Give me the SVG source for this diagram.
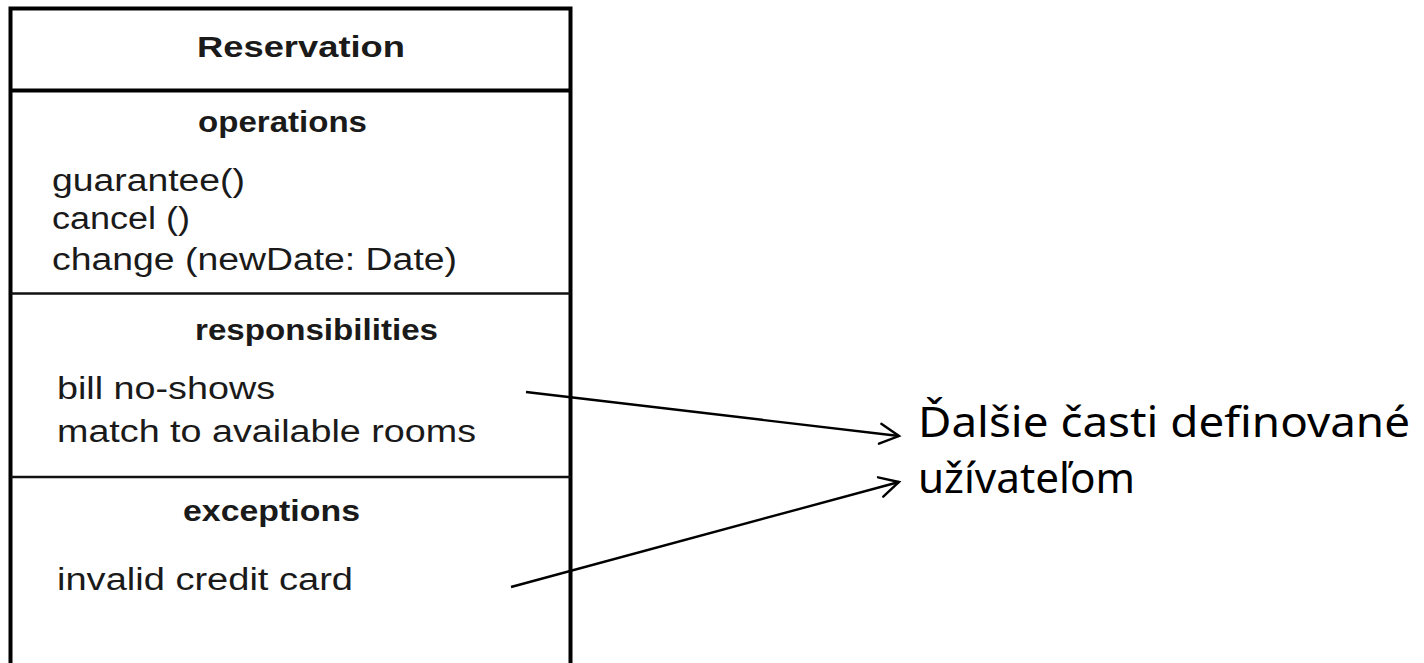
<svg xmlns="http://www.w3.org/2000/svg" width="1424" height="663" viewBox="0 0 1424 663">
  <style>
    .frame { fill: none; stroke: #000; stroke-width: 4; }
    .sep { fill: none; stroke: #111; stroke-width: 2.6; }
    .head { font-family: "Liberation Sans", Arial, sans-serif; font-weight: bold; font-size: 30px; fill: #1a1a1a; }
    .item { font-family: "Liberation Sans", Arial, sans-serif; font-size: 31px; fill: #1a1a1a; }
    .note { font-family: "Noto Sans", "Open Sans", sans-serif; font-size: 42px; fill: #000; }
    .link { fill: none; stroke: #000; stroke-width: 2.4; }
  </style>
  <defs>
    <!-- open chevron arrowhead, tip at the marker origin -->
    <marker id="open-arrow" viewBox="-22 -14 26 28" refX="0" refY="0" markerWidth="26" markerHeight="28" markerUnits="userSpaceOnUse" orient="auto" overflow="visible">
      <path d="M-19,-10 L0,0 L-19,10" fill="none" stroke="#000" stroke-width="2.4" stroke-linecap="round" stroke-linejoin="miter"/>
    </marker>
  </defs>
  <rect width="1424" height="663" fill="#fff"/>

  <!-- Reservation class box, open at the bottom -->
  <g id="reservation">
    <path class="frame" d="M10.5,670 V8.5 H570.5 V670"/>
    <line class="frame" x1="10.5" y1="90.5" x2="570.5" y2="90.5"/>
    <text class="head" x="197" y="57" textLength="208" lengthAdjust="spacingAndGlyphs">Reservation</text>
  </g>

  <g id="operations">
    <text class="head" x="198" y="132" textLength="169" lengthAdjust="spacingAndGlyphs">operations</text>
    <text class="item" x="52" y="191" textLength="193" lengthAdjust="spacingAndGlyphs">guarantee()</text>
    <text class="item" x="52" y="229" textLength="138" lengthAdjust="spacingAndGlyphs">cancel ()</text>
    <text class="item" x="52" y="270" textLength="405" lengthAdjust="spacingAndGlyphs">change (newDate: Date)</text>
    <line class="sep" x1="10.5" y1="293.5" x2="570.5" y2="293.5"/>
  </g>

  <g id="responsibilities">
    <text class="head" x="195" y="340" textLength="243" lengthAdjust="spacingAndGlyphs">responsibilities</text>
    <text class="item" x="57" y="399" textLength="218" lengthAdjust="spacingAndGlyphs">bill no-shows</text>
    <text class="item" x="57" y="442" textLength="419" lengthAdjust="spacingAndGlyphs">match to available rooms</text>
    <line class="sep" x1="10.5" y1="477" x2="570.5" y2="477"/>
  </g>

  <g id="exceptions">
    <text class="head" x="183" y="521" textLength="177" lengthAdjust="spacingAndGlyphs">exceptions</text>
    <text class="item" x="57" y="590" textLength="296" lengthAdjust="spacingAndGlyphs">invalid credit card</text>
  </g>

  <!-- Side note -->
  <g id="note">
    <text class="note" x="918" y="437" textLength="492" lengthAdjust="spacingAndGlyphs">Ďalšie časti definované</text>
    <text class="note" x="918" y="493" textLength="217" lengthAdjust="spacingAndGlyphs">užívateľom</text>
  </g>

  <!-- Connectors -->
  <g id="connectors">
    <line class="link" x1="526" y1="392" x2="899" y2="436" marker-end="url(#open-arrow)"/>
    <line class="link" x1="511" y1="587" x2="899" y2="482" marker-end="url(#open-arrow)"/>
  </g>
</svg>
